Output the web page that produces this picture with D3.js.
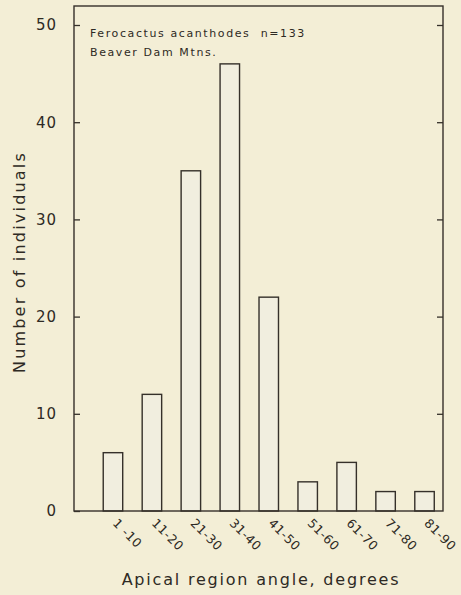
<!DOCTYPE html>
<html><head><meta charset="utf-8">
<script src="https://cdn.jsdelivr.net/npm/d3@7"></script>
<style>
html,body{margin:0;padding:0;background:#f3eed6;}
svg{display:block;}
text{font-family:"DejaVu Sans",sans-serif;fill:#2e2a24;}
</style></head><body>
<svg id="c" width="461" height="595"></svg>
<script>
const categories = ["1 -10","11-20","21-30","31-40","41-50","51-60","61-70","71-80","81-90"];
const counts = [6,12,35,46,22,3,5,2,2];
const yTicks = [0,10,20,30,40,50];
const title1 = "Ferocactus acanthodes  n=133";
const title2 = "Beaver Dam Mtns.";
const xTitle = "Apical region angle, degrees";
const yTitle = "Number of individuals";

const svg = d3.select("#c");
const ink = "#35302a";
const L = 74, R = 443, T = 6, B = 511;

const x = d3.scaleBand().domain(categories).range([93.5, 444]).paddingInner(0.5).paddingOuter(0.25);
const y = d3.scaleLinear().domain([0,50]).range([B, 25]);

// bars
svg.append("g").selectAll("rect").data(counts).join("rect")
  .attr("x", (d,i)=>x(categories[i]))
  .attr("y", d=>y(d))
  .attr("width", x.bandwidth())
  .attr("height", d=>B - y(d))
  .attr("fill", "#f1eedf")
  .attr("stroke", ink)
  .attr("stroke-width", 1.4);

// frame
svg.append("rect").attr("x",L).attr("y",T).attr("width",R-L).attr("height",B-T)
  .attr("fill","none").attr("stroke",ink).attr("stroke-width",1.4);

// left axis (ticks inward)
const yl = svg.append("g").attr("transform",`translate(${L},0)`)
  .call(d3.axisLeft(y).tickValues(yTicks).tickSize(-6).tickPadding(17).tickFormat(d3.format("d")));
yl.select(".domain").remove();
yl.selectAll("line").attr("stroke",ink).attr("stroke-width",1.3);
yl.selectAll("text").attr("font-size",15).attr("letter-spacing",1).attr("fill","#2e2a24")
  .style("font-family","DejaVu Sans");

// right axis (ticks inward)
const yr = svg.append("g").attr("transform",`translate(${R},0)`)
  .call(d3.axisRight(y).tickValues(yTicks.filter(d=>d>0)).tickSize(-6).tickFormat(""));
yr.select(".domain").remove();
yr.selectAll("line").attr("stroke",ink).attr("stroke-width",1.3);

// x labels rotated
const xa = svg.append("g").attr("transform",`translate(0,${B})`)
  .call(d3.axisBottom(x).tickSize(0).tickPadding(0));
xa.select(".domain").remove();
xa.selectAll("text")
  .attr("text-anchor","start")
  .attr("font-size",12.5)
  .attr("letter-spacing",0.5)
  .attr("fill","#2e2a24")
  .style("font-family","DejaVu Sans")
  .attr("y",0).attr("dy",0)
  .attr("transform","translate(-1,13) rotate(45)");

// annotation
svg.append("text").attr("x",90).attr("y",37).attr("font-size",11).attr("letter-spacing",1.6)
  .style("white-space","pre").text(title1);
svg.append("text").attr("x",90).attr("y",56).attr("font-size",11).attr("letter-spacing",1.6).text(title2);

// axis titles
svg.append("text").attr("x",261).attr("y",585).attr("text-anchor","middle")
  .attr("font-size",16).attr("letter-spacing",1.8).text(xTitle);
svg.append("text").attr("transform","translate(25,262) rotate(-90)").attr("text-anchor","middle")
  .attr("font-size",16).attr("letter-spacing",2.2).text(yTitle);
</script>
</body></html>
